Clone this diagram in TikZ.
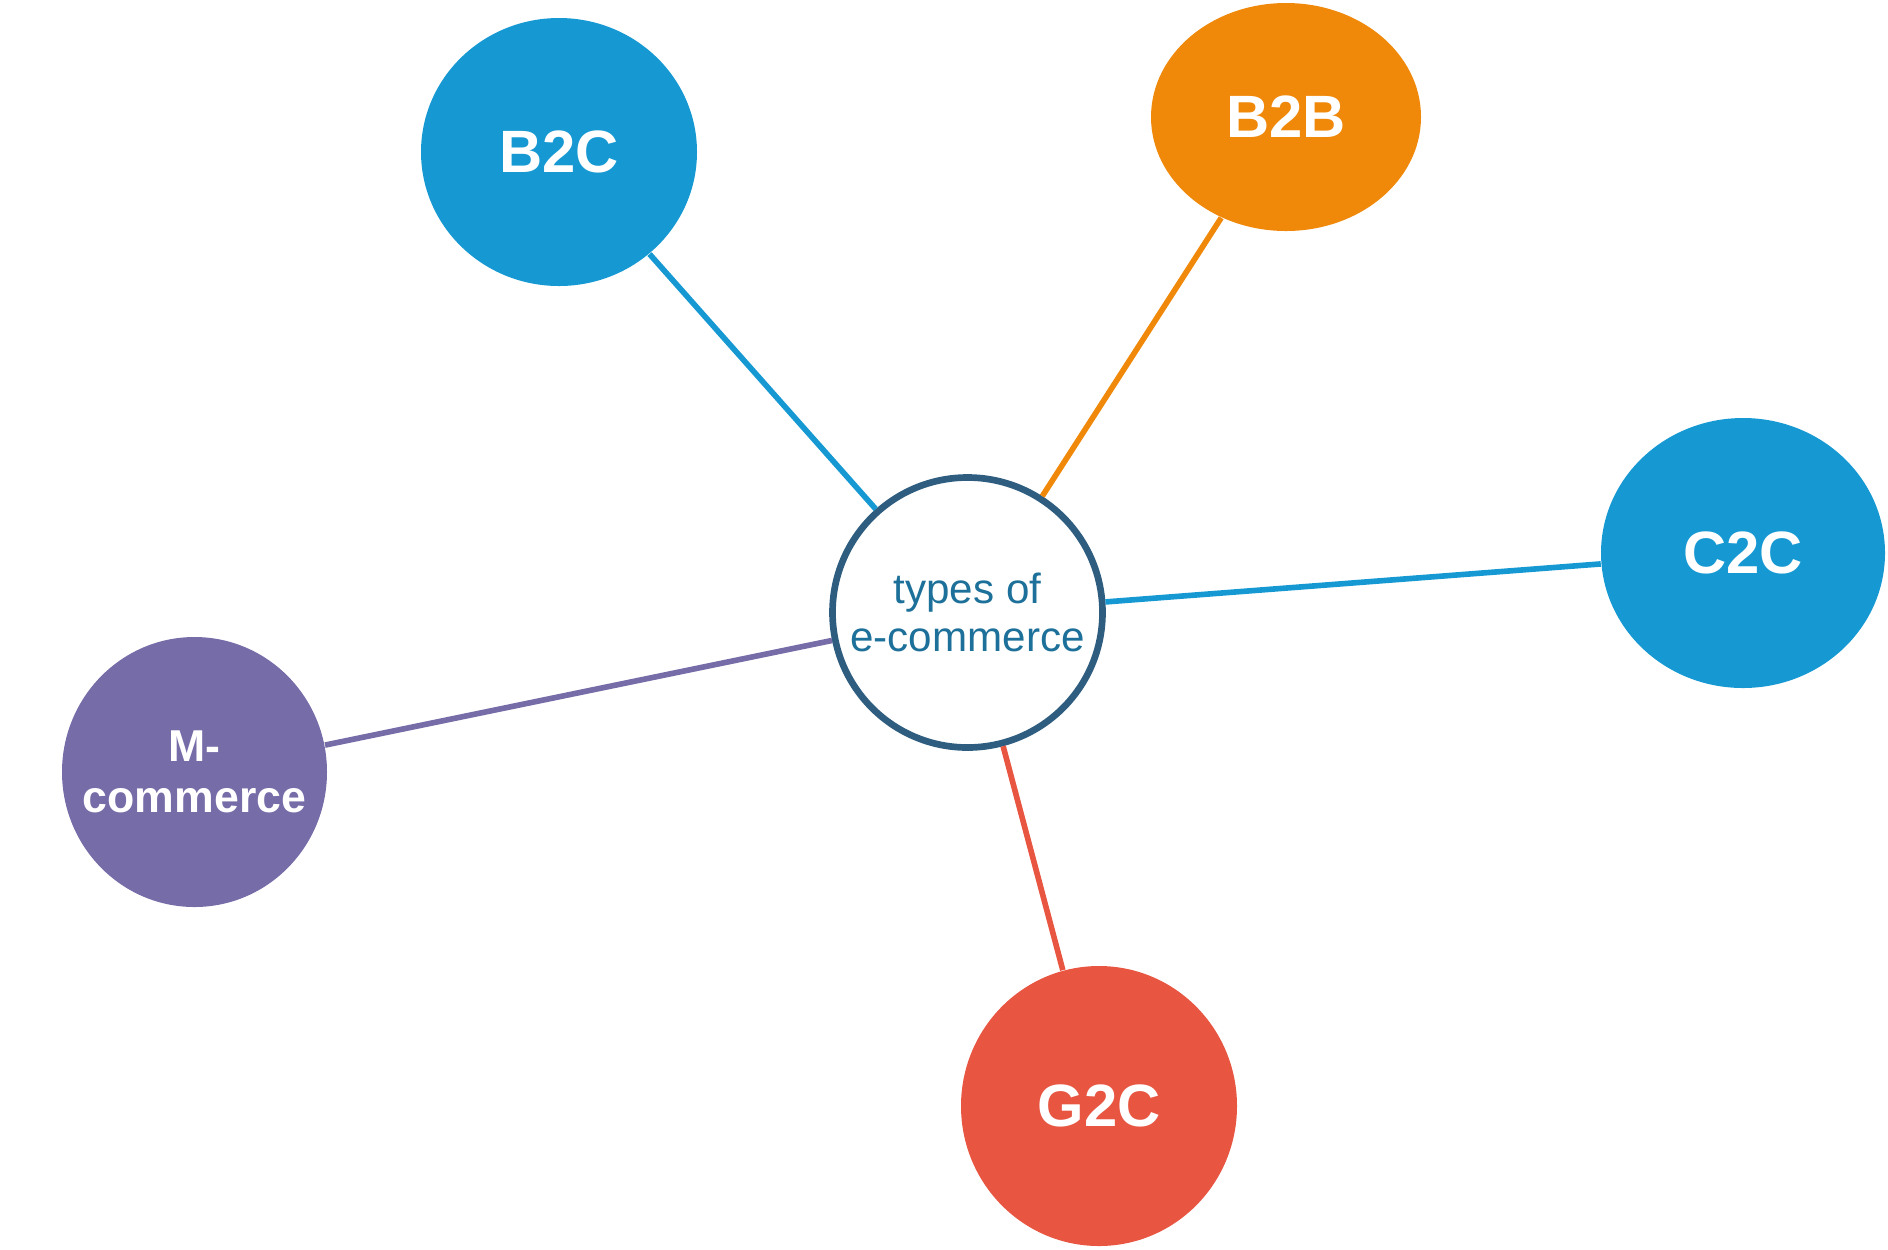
\documentclass[tikz,border=0pt]{standalone}
\usepackage{fontspec}
\setmainfont{Liberation Sans}
\usetikzlibrary{shapes,positioning}
\definecolor{ringblue}{RGB}{47,93,127}
\definecolor{hubtext}{RGB}{29,112,153}
\definecolor{leafblue}{RGB}{22,153,211}
\definecolor{leaforange}{RGB}{240,136,10}
\definecolor{leafpurple}{RGB}{117,108,168}
\definecolor{leafred}{RGB}{232,85,65}

\tikzset{
  hub/.style={circle, draw=ringblue, line width=1.9pt, fill=white, minimum size=2.70cm, inner sep=1pt, align=center, text=hubtext, font=\fontsize{12}{13.8}\selectfont},
  leaf/.style={ellipse, draw=none, text=white, align=center, inner sep=0pt, font=\fontsize{17}{21}\selectfont\bfseries},
  link/.style={line width=1.6pt}
}

\begin{document}
\begin{tikzpicture}
\useasboundingbox (0,0) rectangle (18.88,-12.49);
% nodes
\node[hub] (hub) at (9.675,-6.125) {types of\\e-commerce};
\node[leaf, fill=leafblue, minimum width=2.76cm, minimum height=2.68cm] (b2c) at (5.59,-1.52) {B2C};
\node[leaf, fill=leaforange, minimum width=2.70cm, minimum height=2.28cm] (b2b) at (12.86,-1.17) {B2B};
\node[leaf, fill=leafblue, minimum width=2.84cm, minimum height=2.70cm] (c2c) at (17.43,-5.53) {C2C};
\node[leaf, fill=leafpurple, minimum width=2.65cm, minimum height=2.70cm,
  label={[align=center, text=white, font=\fontsize{12.7}{14.5}\selectfont\bfseries]center:{M-\\commerce}}] (mcom) at (1.945,-7.72) {};
\node[leaf, fill=leafred, minimum width=2.76cm, minimum height=2.80cm] (g2c) at (10.99,-11.06) {G2C};

% links
\draw[link, leafblue] (hub) -- (b2c);
\draw[link, leaforange] (hub) -- (b2b);
\draw[link, leafblue] (hub) -- (c2c);
\draw[link, leafpurple] (hub) -- (mcom);
\draw[link, leafred] (hub) -- (g2c);

\end{tikzpicture}
\end{document}
